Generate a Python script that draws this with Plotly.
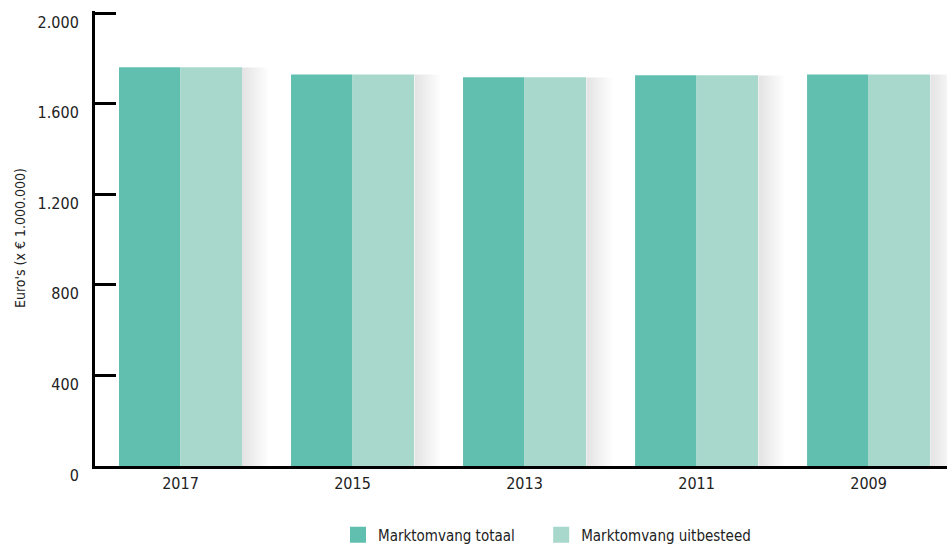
import plotly.graph_objects as go

# Market size per year (x € 1.000.000)
years = ["2017", "2015", "2013", "2011", "2009"]
totaal = [1760, 1729, 1716, 1725, 1729]
uitbesteed = [1760, 1729, 1716, 1725, 1729]
series_names = ["Marktomvang totaal", "Marktomvang uitbesteed"]
y_ticks = [0, 400, 800, 1200, 1600, 2000]
y_ticklabels = ["0", "400", "800", "1.200", "1.600", "2.000"]
y_title = "Euro's (x € 1.000.000)"

DARK = "#61BFB0"
LIGHT = "#A8D7CC"
TEXT = "#222222"
FONT = "DejaVu Sans Condensed, Liberation Sans Narrow, sans-serif"
BARGAP = 0.285
W, H = 947, 545
ML, MR, MT, MB = 95, 0, 11, 79
Y_TOP = 2000 * (H - MT - MB) / 453  # leaves the 2.000 tick just inside the axis end
PAD = "&nbsp;" * 5  # extra room between the two legend entries

fig = go.Figure()
fig.add_trace(go.Bar(x=years, y=totaal, name=series_names[0], marker_color=DARK,
                     marker_line_width=0, showlegend=False))
fig.add_trace(go.Bar(x=years, y=uitbesteed, name=series_names[1], marker_color=LIGHT,
                     marker_line_width=0, showlegend=False))

# legend entries with larger square swatches
for j, (name, col) in enumerate(zip(series_names, [DARK, LIGHT])):
    fig.add_trace(go.Scatter(x=[None], y=[None], mode="markers",
                             name=name + (PAD if j == 0 else ""),
                             marker=dict(symbol="square", size=16, color=col)))

# soft drop shadow to the right of each bar group
half = (1 - BARGAP) / 2
for i, (a, b) in enumerate(zip(totaal, uitbesteed)):
    top = max(a, b)
    for k in range(1, 15):
        fig.add_shape(type="rect", xref="x", yref="y",
                      x0=i + half, x1=i + half + 0.011 * k, y0=0, y1=top,
                      fillcolor="rgba(0,0,0,0.009)", line_width=0, layer="below")

pw, ph = W - ML - MR, H - MT - MB
fig.add_annotation(text=y_title, textangle=-90, xref="paper", yref="paper",
                   x=(20 - ML) / pw, y=(H - MB - 238) / ph, xanchor="center",
                   yanchor="middle", showarrow=False,
                   font=dict(size=14, family=FONT, color=TEXT))

fig.update_layout(
    width=W, height=H,
    margin=dict(l=ML, r=MR, t=MT, b=MB, autoexpand=False),
    paper_bgcolor="white", plot_bgcolor="white",
    barmode="group", bargap=BARGAP, bargroupgap=0,
    font=dict(family=FONT, color=TEXT, size=16),
    legend=dict(orientation="h", x=(338 - ML) / pw, xanchor="left",
                y=(H - MB - 535) / ph, yanchor="middle",
                font=dict(size=15, family=FONT, color=TEXT), tracegroupgap=0),
    xaxis=dict(type="category", range=[-0.497, 4.456], showline=True, linecolor="black",
               linewidth=3, ticks="", showgrid=False, zeroline=False,
               tickfont=dict(size=16), ticklabelstandoff=1, automargin=False),
    yaxis=dict(range=[0, Y_TOP], tickvals=y_ticks, ticktext=y_ticklabels,
               showline=True, linecolor="black", linewidth=3, ticks="inside",
               ticklen=21, tickwidth=3, tickcolor="black", showgrid=False,
               zeroline=False, tickfont=dict(size=16), ticklabelstandoff=10,
               ticklabelshift=9, automargin=False),
)

fig.write_html("out.html")
